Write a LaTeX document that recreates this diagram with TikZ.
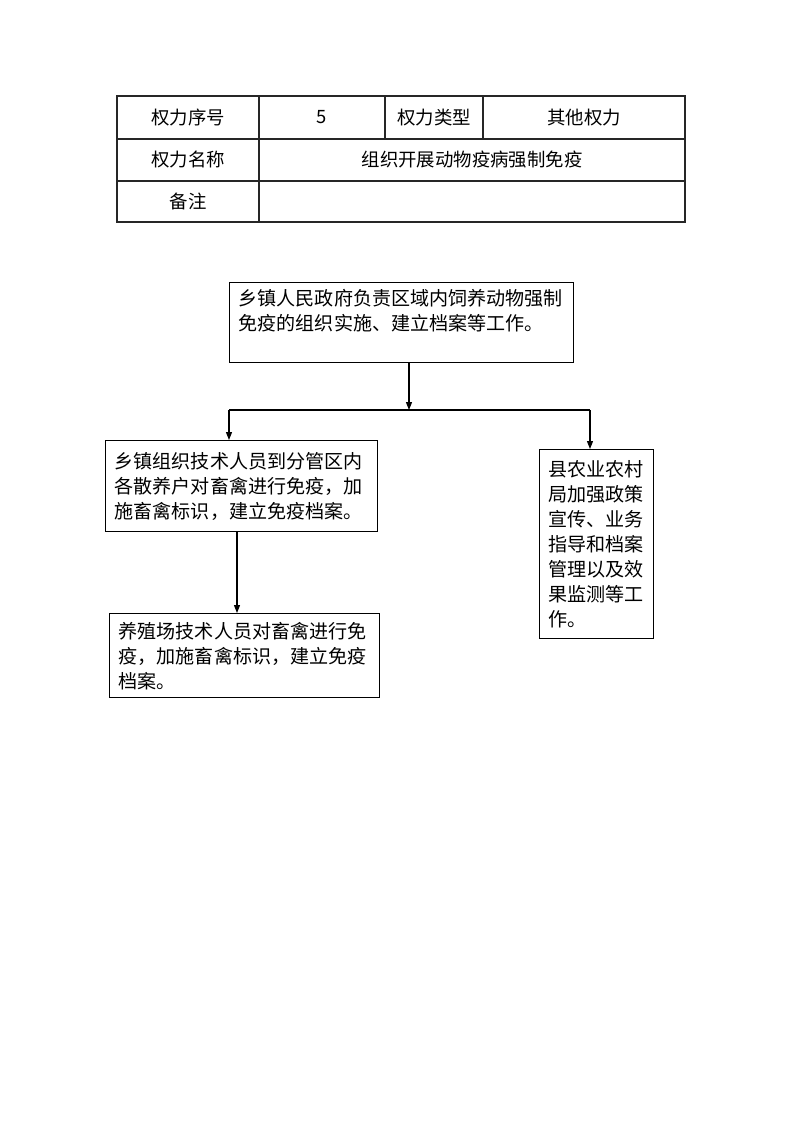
\documentclass[tikz,border=0pt]{standalone}
\usepackage{fontspec}
\setmainfont{Noto Sans CJK SC}
\usetikzlibrary{arrows.meta,positioning}
\tikzset{
  cell/.style={font=\fontsize{13.8pt}{16pt}\selectfont},
  blk/.style={draw,line width=1pt,anchor=north west,align=left,inner xsep=6.75pt,inner ysep=0pt,font=\fontsize{14.3pt}{18.75pt}\selectfont},
  arr/.style={line width=0.8pt,-{Triangle[length=6pt,width=4.5pt]}},
  tbl/.style={line width=0.8pt,black!85},
  lnk/.style={line width=0.8pt}
}

\begin{document}
\begin{tikzpicture}[x=0.75pt,y=-0.75pt]
\useasboundingbox (0,0) rectangle (794,1122);
% table
\draw[tbl] (117,96) rectangle (685,222);
\draw[tbl] (117,139) -- (685,139) (117,181) -- (685,181);
\draw[tbl] (259,96) -- (259,222) (385,96) -- (385,139) (483,96) -- (483,139);
\node[cell] (no) at (188,117.5) {权力序号};
\node[cell] (nov) at (322,117.5) {5};
\node[cell] (kind) at (434,117.5) {权力类型};
\node[cell] (kindv) at (584,117.5) {其他权力};
\node[cell] (name) at (188,160) {权力名称};
\node[cell] (namev) at (472,160) {组织开展动物疫病强制免疫};
\node[cell] (memo) at (188,201.5) {备注};
% flow
\node[blk,minimum width=258pt,minimum height=60pt,text width=244.5pt] (top) at (229,282)
  {乡镇人民政府负责区域内饲养动物强制\\免疫的组织实施、建立档案等工作。\\ \mbox{}};
\node[blk,minimum width=204pt,minimum height=68.25pt,text width=190.5pt] (zhen) at (105,440)
  {乡镇组织技术人员到分管区内\\各散养户对畜禽进行免疫，加\\施畜禽标识，建立免疫档案。};
\node[blk,minimum width=85.5pt,minimum height=141.75pt,text width=72pt] (xian) at (539,449)
  {县农业农村\\局加强政策\\宣传、业务\\指导和档案\\管理以及效\\果监测等工\\作。};
\node[blk,minimum width=202.5pt,minimum height=63pt,text width=189pt] (chang) at (109,613)
  {养殖场技术人员对畜禽进行免\\疫，加施畜禽标识，建立免疫\\档案。};
\coordinate (fork) at (409,410);
\coordinate (forkl) at (229,410);
\coordinate (forkr) at (590,410);
\coordinate (down) at (237,0);
\draw[arr] (top.south -| fork) -- (fork);
\draw[lnk] (forkl) -- (forkr);
\draw[arr] (forkl) -- (forkl |- zhen.north);
\draw[arr] (forkr) -- (forkr |- xian.north);
\draw[arr] (zhen.south -| down) -- (chang.north -| down);
\end{tikzpicture}
\end{document}
